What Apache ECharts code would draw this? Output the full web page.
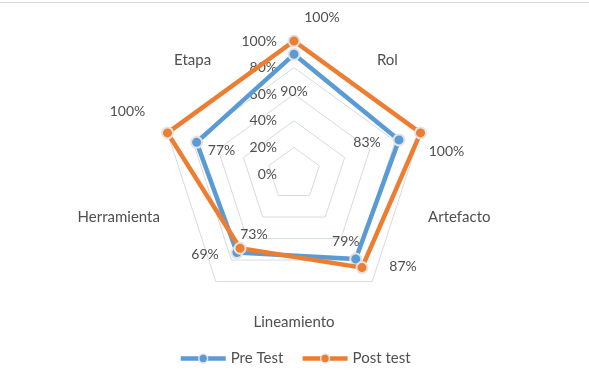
<!DOCTYPE html>
<html>
<head>
<meta charset="utf-8">
<script src="https://cdn.jsdelivr.net/npm/echarts@6/dist/echarts.min.js"></script>
<style>
  html, body { margin: 0; padding: 0; background: #ffffff; }
  #chart { width: 589px; height: 390px; box-sizing: border-box; border-top: 1px solid #d9d9d9; margin-top: 2px; }
</style>
</head>
<body>
<div id="chart"></div>
<script>
// Categories in clockwise order (Excel order), starting at the label nearest the top
const categories = ['Etapa', 'Rol', 'Artefacto', 'Lineamiento', 'Herramienta'];
// Values clockwise from the top vertex
const preTest = [90, 83, 79, 73, 77];
const postTest = [100, 100, 87, 69, 100];
const tickLabels = ['0%', '20%', '40%', '60%', '80%', '100%'];
const seriesNames = ['Pre Test', 'Post test'];

const FONT = 'Lato';
const TEXT = '#4f4f4f';
const colors = ['#5B9BD5', '#ED7D31'];

// per-vertex label offsets (clockwise from top), style only
const labelOffsets = [
  [[0, 37], [-32, 3], [-10, -18], [17, -18], [25, 8]],
  [[28, -24], [26, 19], [41, -1], [-35, 6], [-40, -21]]
];

// ECharts radar goes counter-clockwise; convert clockwise index order
const ccw = [0, 4, 3, 2, 1];
const toCcw = arr => ccw.map(i => arr[i]);

const center = [294, 171];
const radius = 133;

const dataIndicators = ccw.map((_, k) => {
  const ind = { name: '', min: 0, max: 100 };
  if (k === 0) ind.axisLabel = { show: true };
  return ind;
});

const nameIndicators = toCcw(categories).map(n => ({ name: n, min: 0, max: 100 }));

const allValues = [preTest, postTest];
const series = [];

// legend icon providers (line-style legend icons)
seriesNames.forEach((nm, s) => {
  series.push({
    type: 'line', name: nm, data: [], xAxisIndex: 0, yAxisIndex: 0,
    symbol: 'circle',
    lineStyle: { color: colors[s], width: 4.5 },
    itemStyle: { color: colors[s], borderColor: '#e3e3e3', borderWidth: 1.5 }
  });
});

// main radar series
seriesNames.forEach((nm, s) => {
  series.push({
    type: 'radar', name: nm, radarIndex: 0, silent: true,
    symbol: 'circle', symbolSize: 11,
    lineStyle: { color: colors[s], width: 4.5 },
    itemStyle: { color: colors[s], borderColor: '#e3e3e3', borderWidth: 2 },
    label: { show: false },
    emphasis: { disabled: true },
    data: [{ name: nm, value: toCcw(allValues[s]) }],
    z: 2 + s
  });
});

// label-only radar series, one per vertex
seriesNames.forEach((nm, s) => {
  allValues[s].forEach((v, i) => {
    const vals = allValues[s].map((x, j) => (j === i ? x : null));
    const k = ccw.indexOf(i);
    series.push({
      type: 'radar', name: nm, radarIndex: 0, silent: true,
      symbol: 'circle', symbolSize: 2,
      lineStyle: { width: 0, opacity: 0 },
      itemStyle: { color: 'rgba(0,0,0,0)', borderWidth: 0 },
      emphasis: { disabled: true },
      label: {
        show: true, position: 'inside', offset: labelOffsets[s][i],
        color: TEXT, fontFamily: FONT, fontSize: 14,
        formatter: p => {
          if (p.dimensionIndex != null && p.dimensionIndex !== k) return '';
          if (p.value == null || isNaN(p.value)) return '';
          return p.value + '%';
        }
      },
      data: [{ name: nm, value: toCcw(vals) }],
      z: 10
    });
  });
});

const chart = echarts.init(document.getElementById('chart'), null, { renderer: 'canvas' });
chart.setOption({
  backgroundColor: '#ffffff',
  animation: false,
  textStyle: { fontFamily: FONT },
  grid: { show: false, left: 0, top: 0, width: 1, height: 1 },
  xAxis: { type: 'category', show: false, data: [] },
  yAxis: { type: 'value', show: false },
  legend: {
    data: seriesNames,
    left: 'center', top: 343,
    itemWidth: 45, itemHeight: 11, itemGap: 17,
    textStyle: { color: TEXT, fontFamily: FONT, fontSize: 15 },
    lineStyle: { width: 4.5 },
    itemStyle: { borderWidth: 1.5, borderColor: '#e3e3e3' }
  },
  radar: [
    {
      center: center, radius: radius, startAngle: 90, shape: 'polygon', splitNumber: 5,
      indicator: dataIndicators,
      axisName: { show: false },
      axisLine: { show: false },
      axisTick: { show: false },
      splitArea: { show: false },
      splitLine: { show: true, lineStyle: { color: '#d6dbe2', width: 1 } },
      axisLabel: {
        show: false, margin: 17, color: TEXT, fontFamily: FONT, fontSize: 14,
        formatter: v => tickLabels[Math.round(v / 20)]
      }
    },
    {
      center: center, radius: radius, startAngle: 126, shape: 'polygon', splitNumber: 5,
      indicator: nameIndicators,
      nameGap: 8,
      axisName: { show: true, color: TEXT, fontFamily: FONT, fontSize: 15 },
      axisLine: { show: false },
      axisTick: { show: false },
      axisLabel: { show: false },
      splitArea: { show: false },
      splitLine: { show: false }
    }
  ],
  series: series
});
</script>
</body>
</html>
